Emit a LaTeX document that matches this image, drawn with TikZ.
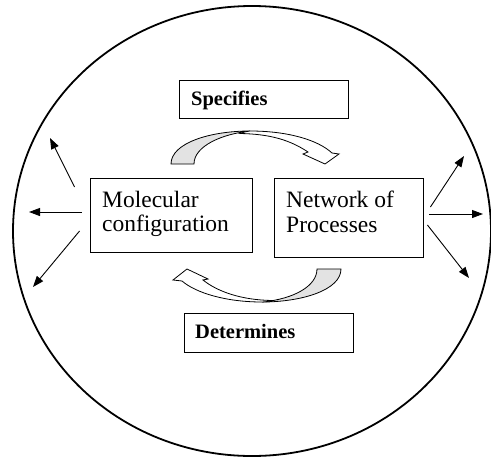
\documentclass[tikz,border=0pt]{standalone}
\usepackage{fontspec}
\setmainfont{Liberation Serif}
\usetikzlibrary{arrows.meta,shapes.geometric}
\definecolor{ribbon}{HTML}{E3E3E3}
\begin{document}
\begin{tikzpicture}[x=1pt,y=-1pt,
  boxstyle/.style={draw=black,line width=0.9pt,inner sep=0pt},
  txtreg/.style={anchor=base west,inner sep=0pt,font=\fontsize{23.5}{25}\selectfont},
  txtbold/.style={anchor=base west,inner sep=0pt,font=\fontsize{20.5}{22}\selectfont\bfseries},
  outarrow/.style={line width=0.9pt,-{Triangle[length=11pt,width=8pt]}},
  ribbonback/.style={draw=black,line width=0.8pt,fill=ribbon},
  ribbonfront/.style={draw=black,line width=0.8pt,fill=white,line join=miter}]
\useasboundingbox (0,0) rectangle (491,459);
\fill[white] (0,0) rectangle (491,459);
% enclosing ellipse
\node[draw=black,line width=1.8pt,ellipse,minimum width=478pt,minimum height=450pt,inner sep=0pt] (cell) at (252,231) {};
% boxes
\node[boxstyle,minimum width=162pt,minimum height=74pt] (mol) at (171,215) {};
\node[boxstyle,minimum width=149pt,minimum height=79pt] (net) at (348.5,217.5) {};
\node[boxstyle,minimum width=169pt,minimum height=38pt] (spec) at (263.5,99) {};
\node[boxstyle,minimum width=169pt,minimum height=39pt] (det) at (268.5,332.5) {};
% texts
\node[txtreg] (mol1) at (102,207) {Molecular};
\node[txtreg] (mol2) at (102,231) {configuration};
\node[txtreg] (net1) at (286,207) {Network of};
\node[txtreg] (net2) at (286,232) {Processes};
\node[txtbold] (spect) at (191,105) {Specifies};
\node[txtbold] (dett) at (195,338) {Determines};
% top curved arrow
\path[ribbonback] (171,164) .. controls (171,143) and (210,131) .. (250,131)
  .. controls (222,134) and (194,146) .. (194,164) -- cycle;
\path[ribbonfront] (250,131) .. controls (288,131) and (318,140) .. (332,153)
  -- (339,154) -- (325,164) -- (303,154) -- (308,152)
  .. controls (290,140) and (270,134) .. (240,133.5) .. controls (244,132) and (247,131.3) .. (250,131) -- cycle;
% bottom curved arrow
\path[ribbonback] (341,269) .. controls (341,290) and (302,302) .. (262,302)
  .. controls (294,299) and (317,286) .. (317,269) -- cycle;
\path[ribbonfront] (262,302) .. controls (226,302) and (196,293) .. (182,281)
  -- (173,280) -- (187,269) -- (208,279) -- (203,280)
  .. controls (218,292) and (242,300) .. (272,300.5) .. controls (268,301.5) and (265,302) .. (262,302) -- cycle;
% outward arrows
\coordinate (l1) at (50,138);
\coordinate (l2) at (29,212);
\coordinate (l3) at (33,287);
\coordinate (r1) at (464,156);
\coordinate (r2) at (483,214);
\coordinate (r3) at (469,278);
\draw[outarrow] ([xshift=-15pt,yshift=28pt]mol.west) -- (l1);
\draw[outarrow] ([xshift=-8pt,yshift=3pt]mol.west) -- (l2);
\draw[outarrow] ([xshift=-10pt,yshift=-16pt]mol.west) -- (l3);
\draw[outarrow] ([xshift=7pt,yshift=10.5pt]net.east) -- (r1);
\draw[outarrow] ([xshift=6pt,yshift=3.5pt]net.east) -- (r2);
\draw[outarrow] ([xshift=4pt,yshift=-7.5pt]net.east) -- (r3);
\end{tikzpicture}
\end{document}
